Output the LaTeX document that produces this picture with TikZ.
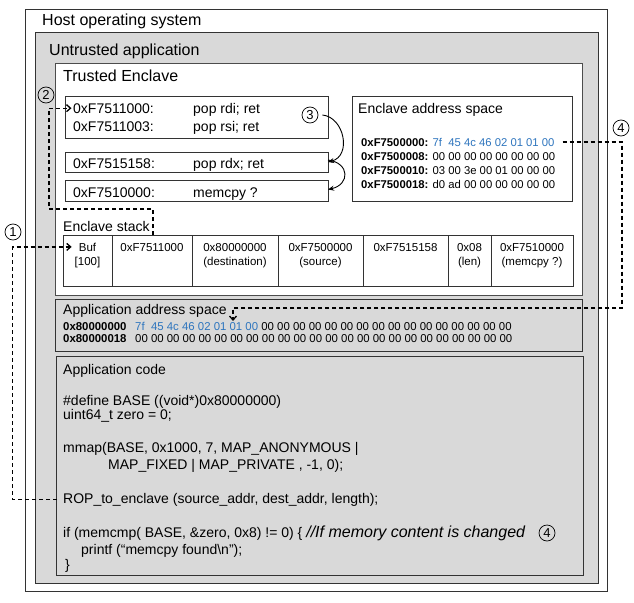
\documentclass[tikz,border=0pt]{standalone}
\usepackage{fontspec}
\setmainfont{Liberation Sans}
\usetikzlibrary{arrows.meta}
\definecolor{hexblue}{RGB}{46,117,190}
\definecolor{panel}{RGB}{217,217,217}
\begin{document}
\begin{tikzpicture}[x=1pt,y=-1pt,
  pbox/.style={anchor=north west, inner sep=0pt, outer sep=0pt, line width=1pt},
  whitebox/.style={pbox, draw=black!80, fill=white},
  graybox/.style={pbox, draw=black!80, fill=panel},
  t16/.style={anchor=base west, inner sep=0pt, font=\fontsize{16}{19}\selectfont},
  t14/.style={anchor=base west, inner sep=0pt, font=\fontsize{14}{17}\selectfont},
  t11/.style={anchor=base west, inner sep=0pt, font=\fontsize{11.3}{13}\selectfont},
  t11b/.style={anchor=base west, inner sep=0pt, font=\fontsize{11.4}{13}\selectfont},
  tcell/.style={anchor=base, inner sep=0pt, font=\fontsize{11.5}{14}\selectfont},
  num/.style={circle, draw, line width=0.7pt, minimum size=16pt, inner sep=0pt, font=\fontsize{13}{15}\selectfont},
  dline/.style={line width=1.3pt, dash pattern=on 4pt off 3pt},
  barbtip/.style={-{Straight Barb[length=4pt,width=7pt]}},
  curvetip/.style={line width=0.9pt, -{Stealth[length=6pt,width=5pt]}}
]
\useasboundingbox (0,0) rectangle (634,602);

% containers
\node[whitebox, minimum width=582pt, minimum height=581pt] (host) at (25,10) {};
\node[graybox, minimum width=563pt, minimum height=550pt] (untr) at (35,33) {};
\node[whitebox, draw=black!70, minimum width=527pt, minimum height=231pt] (encl) at (55,64) {};
\node[graybox, minimum width=527pt, minimum height=52pt] (aas) at (55,299) {};
\node[graybox, minimum width=527pt, minimum height=219pt] (acode) at (56,356) {};

\node[t16] (thost) at (42,25.7) {Host operating system};
\node[t16] (tuntr) at (49,55.7) {Untrusted application};
\node[t16] (tencl) at (63,81.7) {Trusted Enclave};

% gadget boxes
\node[whitebox, minimum width=263pt, minimum height=42pt] (g1) at (65,96) {};
\node[whitebox, minimum width=263pt, minimum height=20pt] (g2) at (65,152) {};
\node[whitebox, minimum width=263pt, minimum height=21pt] (g3) at (65,180) {};
\node[t14] (g1a) at (73,113) {0xF7511000:};
\node[t14] (g1ai) at (193,113) {pop rdi; ret};
\node[t14] (g1b) at (73,131) {0xF7511003:};
\node[t14] (g1bi) at (193,131) {pop rsi; ret};
\node[t14] (g2a) at (73,168) {0xF7515158:};
\node[t14] (g2ai) at (193,168) {pop rdx; ret};
\node[t14] (g3a) at (73,197) {0xF7510000:};
\node[t14] (g3ai) at (193,197) {memcpy ?};

% enclave address space
\node[whitebox, minimum width=220pt, minimum height=105pt] (eas) at (352,96) {};
\node[t14] (teas) at (358,113) {Enclave address space};
\node[t11] (er1) at (361,146) {\textbf{0xF7500000:} \textcolor{hexblue}{7f\ \ 45 4c 46 02 01 01 00}};
\node[t11] (er2) at (361,160) {\textbf{0xF7500008:} 00 00 00 00 00 00 00 00};
\node[t11] (er3) at (361,174) {\textbf{0xF7500010:} 03 00 3e 00 01 00 00 00};
\node[t11] (er4) at (361,188) {\textbf{0xF7500018:} d0 ad 00 00 00 00 00 00};

% enclave stack
\node[t14] (tstack) at (63,231) {Enclave stack};
\node[whitebox, line width=0.8pt, minimum width=510pt, minimum height=51pt] (tbl) at (63,235) {};
\foreach \cx in {112,192,278,363,448,491}{\draw[line width=0.8pt, black!80] (\cx,235) -- (\cx,286);}
\node[tcell] (buf1) at (87.5,251) {Buf};
\node[tcell] (buf2) at (87.5,265) {[100]};
\node[tcell] (s2) at (152,251) {0xF7511000};
\node[tcell] (s3a) at (235,251) {0x80000000};
\node[tcell] (s3b) at (235,265) {(destination)};
\node[tcell] (s4a) at (320.5,251) {0xF7500000};
\node[tcell] (s4b) at (320.5,265) {(source)};
\node[tcell] (s5) at (405.5,251) {0xF7515158};
\node[tcell] (s6a) at (469.5,251) {0x08};
\node[tcell] (s6b) at (469.5,265) {(len)};
\node[tcell] (s7a) at (532,251) {0xF7510000};
\node[tcell] (s7b) at (532,265) {(memcpy ?)};

% application address space
\node[t14] (taas) at (63,314) {Application address space};
\node[t11b] (ar1) at (63,330) {\bfseries 0x80000000};
\node[t11b] (ar1h) at (135,330) {\textcolor{hexblue}{7f\ \ 45 4c 46 02 01 01 00} 00 00 00 00 00 00 00 00 00 00 00 00 00 00 00 00};
\node[t11b] (ar2) at (63,342) {\bfseries 0x80000018};
\node[t11b] (ar2h) at (135,342) {00 00 00 00 00 00 00 00 00 00 00 00 00 00 00 00 00 00 00 00 00 00 00 00};

% application code
\node[t14] (tcode) at (63,374) {Application code};
\node[t14] (l1) at (63,405.5) {\#define BASE ((void*)0x80000000)};
\node[t14] (l2) at (63,419.5) {uint64\_t zero = 0;};
\node[t14] (l3) at (63,452) {mmap(BASE, 0x1000, 7, MAP\_ANONYMOUS |};
\node[t14] (l4) at (108,469.5) {MAP\_FIXED | MAP\_PRIVATE , -1, 0);};
\node[t14] (rop) at (63,503) {ROP\_to\_enclave (source\_addr, dest\_addr, length);};
\node[t14] (l6) at (63,537) {if (memcmp( BASE, \&zero, 0x8) != 0) \{ {\fontsize{16}{19}\selectfont\itshape //If memory content is changed}};
\node[t14] (l7) at (81,554) {printf (“memcpy found\textbackslash n”);};
\node[t14] (l8) at (65,569) {\}};

% circled numbers
\node[num] (c1) at (13,232) {1};
\node[num] (c2) at (46,95) {2};
\node[num] (c3) at (310,115) {3};
\node[num] (c4a) at (621,128) {4};
\node[num] (c4b) at (547,533) {4};

% connectors
\coordinate (x1) at (12.5,0);
\draw[dline, barbtip] ([xshift=-6pt]rop.west) -| (x1 |- buf1.west) -- ([xshift=-7pt]buf1.west);

\coordinate (d2s) at (153,235);
\coordinate (d2a) at (153,209);
\coordinate (d2b) at (49,209);
\draw[dline, barbtip] (d2s) -- (d2a) -- (d2b) |- ([xshift=-1.5pt]g1a.west);

\coordinate (x4) at (622,0);
\coordinate (a4turn) at (233,308);
\coordinate (a4tip) at (233,321);
\draw[dline, barbtip] ([xshift=8pt]er1.east) -| (x4 |- a4turn) -- (a4turn) -- (a4tip);

\draw[curvetip] ([xshift=4pt]c3.east) .. controls +(22,2) and +(24,-6) .. (g2.east);
\draw[curvetip] ([yshift=2pt]g2.east) .. controls +(22,3) and +(22,-5) .. ([yshift=1pt]g3.east);
\end{tikzpicture}
\end{document}
